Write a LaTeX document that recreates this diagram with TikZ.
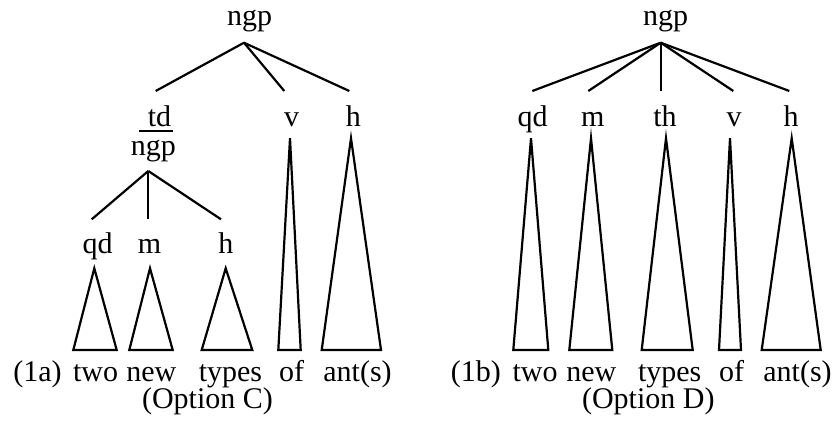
\documentclass[tikz,border=0pt]{standalone}
\usepackage{fontspec}
\setmainfont{Liberation Serif}
\begin{document}
\begin{tikzpicture}[x=1pt,y=-1pt,
  lbl/.style={anchor=base, inner sep=0pt, font=\fontsize{30}{36}\selectfont},
  edge/.style={line width=2.2pt},
  tri/.style={line width=2.2pt, line join=miter}]
\useasboundingbox (0,0) rectangle (835,421);

% ---------- Left tree (1a) ----------
\node[lbl] (L) at (249.5,25) {ngp};
\coordinate (Lr) at (244,42.7);
\coordinate (Ltdt) at (155.7,91);
\coordinate (Lvt) at (284.3,91);
\coordinate (Lht) at (349.3,91);
\draw[edge] (Lr) -- (Ltdt);
\draw[edge] (Lr) -- (Lvt);
\draw[edge] (Lr) -- (Lht);

\node[lbl] (Ltd) at (159.5,126.7) {td};
\coordinate (Lu1) at (139,131);
\coordinate (Lu2) at (172.7,131);
\draw[line width=2pt] (Lu1) -- (Lu2);
\node[lbl] (Ln) at (153.3,155) {ngp};
\node[lbl] (Lv) at (291.7,126.7) {v};
\node[lbl] (Lh) at (353.3,126.7) {h};

\coordinate (Ls) at (148.3,171);
\coordinate (Lqdt) at (91.7,219.3);
\coordinate (Lmt) at (148.3,219.3);
\coordinate (Lh2t) at (221,219.3);
\draw[edge] (Ls) -- (Lqdt);
\draw[edge] (Ls) -- (Lmt);
\draw[edge] (Ls) -- (Lh2t);

\node[lbl] (Lqd) at (97.5,253.3) {qd};
\node[lbl] (Lm) at (149.5,253.3) {m};
\node[lbl] (Lh2) at (225.8,253.3) {h};

\draw[tri] (94.3,268.3) -- (73.3,350) -- (116.7,350) -- cycle;
\draw[tri] (150,268.3) -- (129.3,350) -- (172.7,350) -- cycle;
\draw[tri] (225.7,268.3) -- (201.7,350) -- (252.3,350) -- cycle;
\draw[tri] (290,138.3) -- (278.3,350) -- (300.7,350) -- cycle;
\draw[tri] (351,138.3) -- (321.7,350) -- (381,350) -- cycle;

\node[lbl] (Lw0) at (37.5,381.5) {(1a)};
\node[lbl] (Lw1) at (95.5,381.5) {two};
\node[lbl] (Lw2) at (151.3,381.5) {new};
\node[lbl] (Lw3) at (230.5,381.5) {types};
\node[lbl] (Lw4) at (291.7,381.5) {of};
\node[lbl] (Lw5) at (357.5,381.5) {ant(s)};
\node[lbl] (Lopt) at (207.5,408) {(Option C)};

% ---------- Right tree (1b) ----------
\node[lbl] (R) at (665.5,25) {ngp};
\coordinate (Rr) at (660.7,42.7);
\coordinate (Rqdt) at (532.3,91);
\coordinate (Rmt) at (588.3,91);
\coordinate (Rtht) at (660.7,91);
\coordinate (Rvt) at (733.3,91);
\coordinate (Rht) at (789.3,91);
\foreach \t in {Rqdt,Rmt,Rtht,Rvt,Rht} \draw[edge] (Rr) -- (\t);

\node[lbl] (Rqd) at (532.5,126.7) {qd};
\node[lbl] (Rm) at (592.7,126.7) {m};
\node[lbl] (Rth) at (665,126.7) {th};
\node[lbl] (Rv) at (734,126.7) {v};
\node[lbl] (Rh) at (791,126.7) {h};

\draw[tri] (531,138.3) -- (513.3,350) -- (548.3,350) -- cycle;
\draw[tri] (591,138.3) -- (569.3,350) -- (612.3,350) -- cycle;
\draw[tri] (666,138.3) -- (641.7,350) -- (692.7,350) -- cycle;
\draw[tri] (730,138.3) -- (719,350) -- (741,350) -- cycle;
\draw[tri] (791.7,138.3) -- (761.7,350) -- (820.7,350) -- cycle;

\node[lbl] (Rw0) at (475.8,381.5) {(1b)};
\node[lbl] (Rw1) at (535,381.5) {two};
\node[lbl] (Rw2) at (591.3,381.5) {new};
\node[lbl] (Rw3) at (669.7,381.5) {types};
\node[lbl] (Rw4) at (731.7,381.5) {of};
\node[lbl] (Rw5) at (797.5,381.5) {ant(s)};
\node[lbl] (Ropt) at (648.3,408) {(Option D)};
\end{tikzpicture}
\end{document}
